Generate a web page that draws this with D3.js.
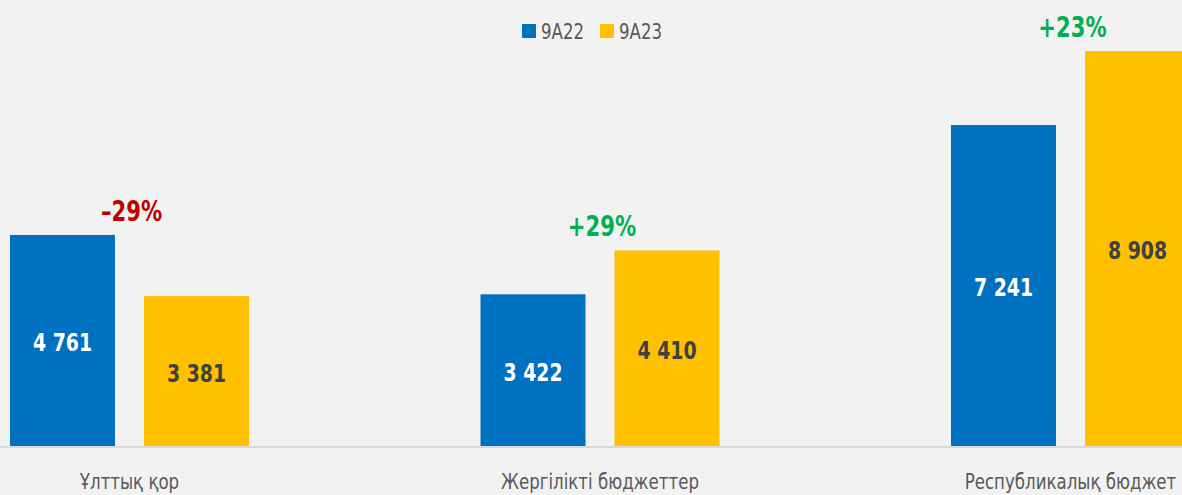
<!DOCTYPE html>
<html lang="kk">
<head>
  <meta charset="UTF-8">
  <title>9А22 / 9А23</title>
  <script src="https://d3js.org/d3.v7.min.js"></script>
  <style>
    body { margin: 0; background: #f2f2f2; }
    svg { display: block; font-family: 'DejaVu Sans Condensed', 'Liberation Sans Narrow', sans-serif; }
    .cat { font-size: 22px; fill: #595959; text-anchor: middle; }
    .legend-text { font-size: 22px; fill: #595959; }
    .val { font-size: 25px; font-weight: bold; text-anchor: middle; }
    .pct { font-size: 28px; font-weight: bold; text-anchor: middle; }
  </style>
</head>
<body>
  <div id="chart"></div>
  <script>
    const categories = ["Ұлттық қор", "Жергілікті бюджеттер", "Республикалық бюджет"];
    const seriesNames = ["9А22", "9А23"];
    const values22 = [4761, 3422, 7241];
    const values23 = [3381, 4410, 8908];
    const changes = ["-29%", "+29%", "+23%"];

    const colors = { "9А22": "#0070c0", "9А23": "#ffc000" };
    const labelColors = { "9А22": "#ffffff", "9А23": "#404040" };

    const width = 1182, height = 495;
    const baseline = 446;
    const squeeze = 0.84; // narrow the glyphs, the original font is condensed

    const svg = d3.select("#chart")
      .append("svg")
      .attr("width", width)
      .attr("height", height);

    svg.append("rect").attr("width", width).attr("height", height).attr("fill", "#f2f2f2");

    const x0 = d3.scaleBand()
      .domain(categories)
      .range([-221.5, 1421.5])
      .paddingInner(0.492)
      .paddingOuter(0.492);

    const x1 = d3.scaleBand()
      .domain(seriesNames)
      .range([0, x0.bandwidth()])
      .paddingInner(0.2164);

    const y = d3.scaleLinear()
      .domain([0, 10000])
      .range([baseline, 2.7]);

    const at = (px, py) => `translate(${px},${py}) scale(${squeeze},1)`;

    const rows = categories.map((c, i) => ({
      cat: c,
      change: changes[i],
      bars: [
        { key: "9А22", value: values22[i] },
        { key: "9А23", value: values23[i] }
      ]
    }));

    const groups = svg.selectAll(".group")
      .data(rows)
      .enter()
      .append("g")
      .attr("transform", d => `translate(${x0(d.cat)},0)`);

    groups.selectAll("rect")
      .data(d => d.bars)
      .enter()
      .append("rect")
      .attr("x", d => x1(d.key))
      .attr("y", d => y(d.value))
      .attr("width", x1.bandwidth())
      .attr("height", d => baseline - y(d.value))
      .attr("fill", d => colors[d.key]);

    groups.selectAll(".val")
      .data(d => d.bars)
      .enter()
      .append("text")
      .attr("class", "val")
      .attr("transform", d => at(x1(d.key) + x1.bandwidth() / 2, (y(d.value) + baseline) / 2 + 2))
      .attr("dy", "0.35em")
      .attr("fill", d => labelColors[d.key])
      .text(d => d3.format(",")(d.value).replace(",", " "));

    groups.append("text")
      .attr("class", "pct")
      .attr("transform", d => at(x0.bandwidth() / 2 + 2, y(d3.max(d.bars, b => b.value)) - 24))
      .attr("dy", "0.35em")
      .attr("fill", d => d.change.startsWith("-") ? "#c00000" : "#00b050")
      .text(d => d.change.replace("-", "–"));

    svg.append("line")
      .attr("x1", 0).attr("x2", width)
      .attr("y1", baseline + 1).attr("y2", baseline + 1)
      .attr("stroke", "#d9d9d9")
      .attr("stroke-width", 2);

    svg.selectAll(".cat")
      .data(categories)
      .enter()
      .append("text")
      .attr("class", "cat")
      .attr("transform", d => at(x0(d) + x0.bandwidth() / 2, 481))
      .attr("dy", "0.35em")
      .text(d => d);

    // legend
    const legend = svg.append("g").attr("transform", "translate(522,24)");
    const item = legend.selectAll("g")
      .data(seriesNames)
      .enter()
      .append("g")
      .attr("transform", (d, i) => `translate(${i * 78},0)`);
    item.append("rect")
      .attr("width", 14).attr("height", 14)
      .attr("fill", d => colors[d]);
    item.append("text")
      .attr("class", "legend-text")
      .attr("transform", at(19, 7))
      .attr("dy", "0.35em")
      .text(d => d);
  </script>
</body>
</html>
